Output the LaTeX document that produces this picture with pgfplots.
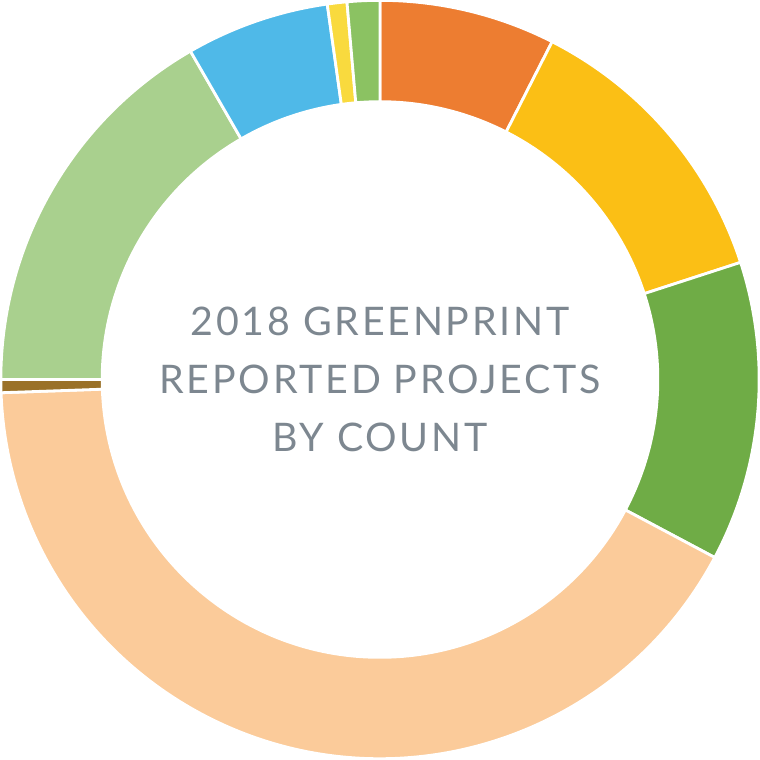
\documentclass[border=0pt]{standalone}
\usepackage{pgfplots}
\pgfplotsset{compat=1.18}
\usepackage{pgfplotstable}
\usepackage{fontspec}
\newfontfamily\titlefont[LetterSpace=7]{Lato}
\definecolor{c1}{HTML}{ED7D31}
\definecolor{c2}{HTML}{FBBF15}
\definecolor{c3}{HTML}{6FAC46}
\definecolor{c4}{HTML}{FBCB9A}
\definecolor{c5}{HTML}{9A7128}
\definecolor{c6}{HTML}{A9D08E}
\definecolor{c7}{HTML}{4FB9E8}
\definecolor{c8}{HTML}{F9DA3E}
\definecolor{c9}{HTML}{8BC262}
\definecolor{txt}{HTML}{7D8790}
\pgfplotstableread{
name count color
Orange 27 c1
Gold 45 c2
Green 46 c3
Peach 150 c4
Brown 2 c5
LightGreen 60 c6
Blue 22 c7
Yellow 3 c8
SmallGreen 5 c9
}\slices
\begin{document}
\begin{tikzpicture}
\begin{axis}[
  width=7.6cm, height=7.59cm, scale only axis,
  xmin=-1.0053, xmax=1.0053, ymin=-1.004, ymax=1.004,
  hide axis, clip=false]
\coordinate (sw) at (axis cs:-1.0053,-1.004);
\coordinate (ne) at (axis cs:1.0053,1.004);
\pgfplotstablegetrowsof{\slices}
\pgfmathtruncatemacro\nrows{\pgfplotsretval-1}
\def\total{0}
\pgfplotsforeachungrouped \i in {0,...,\nrows}{%
  \pgfplotstablegetelem{\i}{count}\of\slices
  \pgfmathsetmacro\total{\total+\pgfplotsretval}%
}
\pgfmathsetmacro\fac{360/\total}
\def\cum{0}
\def\Ro{1.003}\def\Ri{0.735}
\pgfplotsforeachungrouped \i in {0,...,\nrows}{%
  \pgfplotstablegetelem{\i}{count}\of\slices \let\cnt\pgfplotsretval
  \pgfplotstablegetelem{\i}{color}\of\slices \let\col\pgfplotsretval
  \pgfmathsetmacro\aS{90-\cum*\fac}%
  \pgfmathsetmacro\cum{\cum+\cnt}%
  \pgfmathsetmacro\aE{90-\cum*\fac}%
  \pgfmathsetmacro\xo{\Ro*cos(\aS)}\pgfmathsetmacro\yo{\Ro*sin(\aS)}%
  \pgfmathsetmacro\xi{\Ri*cos(\aE)}\pgfmathsetmacro\yi{\Ri*sin(\aE)}%
  \edef\cmd{\noexpand\fill[\col, draw=white, line width=0.8pt]
    (axis cs:\xo,\yo) arc[start angle=\aS, end angle=\aE, radius=3.7913cm]
    -- (axis cs:\xi,\yi) arc[start angle=\aE, end angle=\aS, radius=2.7783cm] -- cycle;}%
  \cmd
}
\node[align=center, text=txt, font=\titlefont\fontsize{11.2}{16.6}\selectfont]
  at (axis cs:0,0) {2018 GREENPRINT\\REPORTED PROJECTS\\BY COUNT};
\end{axis}
\pgfresetboundingbox
\useasboundingbox (sw) rectangle (ne);
\end{tikzpicture}
\end{document}
